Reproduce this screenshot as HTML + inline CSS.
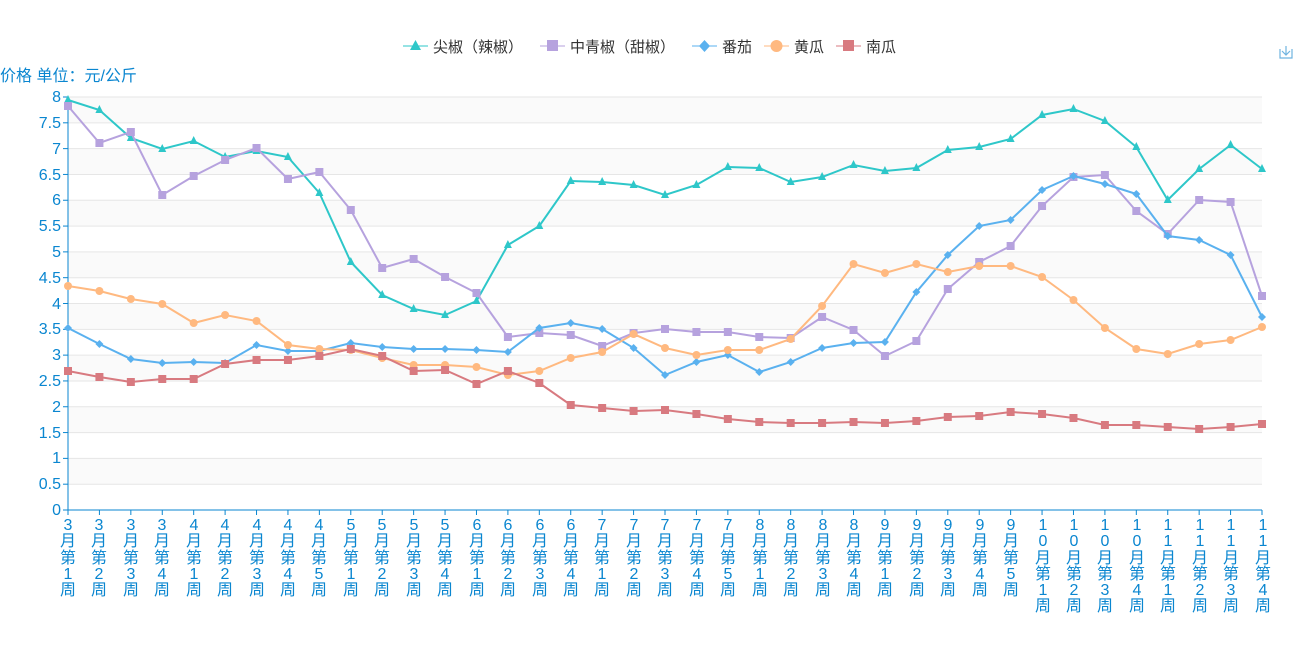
<!DOCTYPE html>
<html><head><meta charset="utf-8"><style>
body{margin:0;width:1300px;height:650px;background:#fff;overflow:hidden;position:relative;font-family:"Liberation Sans","Noto Sans CJK SC",sans-serif}
.xl{position:absolute;top:518px;width:16px;font-size:16px;line-height:16.3px;color:#0a86d0;text-align:center;word-break:break-all}
svg{position:absolute;left:0;top:0}
</style></head><body>
<svg id="s" width="1300" height="650" xmlns="http://www.w3.org/2000/svg" font-family="Liberation Sans, Noto Sans CJK SC, sans-serif">
<g id="bands"></g>
<text x="0" y="81" font-size="16" fill="#0a86d0">价格 单位：元/公斤</text>
<g font-size="16" fill="#0a86d0" text-anchor="end">
<text x="61" y="102">8</text><text x="61" y="128">7.5</text><text x="61" y="154">7</text><text x="61" y="180">6.5</text><text x="61" y="205">6</text><text x="61" y="231">5.5</text><text x="61" y="257">5</text><text x="61" y="283">4.5</text><text x="61" y="309">4</text><text x="61" y="334">3.5</text><text x="61" y="360">3</text><text x="61" y="386">2.5</text><text x="61" y="412">2</text><text x="61" y="438">1.5</text><text x="61" y="463">1</text><text x="61" y="489">0.5</text><text x="61" y="515">0</text>
</g>
<g id="axis"></g>
<g id="series"></g>
<g font-size="15" fill="#333">
<line x1="403" y1="46" x2="428" y2="46" stroke="#2ec7c9" stroke-width="1"/><polygon points="415.5,40 421,50 410,50" fill="#2ec7c9"/>
<text x="433" y="52">尖椒（辣椒）</text>
<line x1="540" y1="46" x2="565" y2="46" stroke="#b6a2de"/><rect x="547" y="40" width="11" height="11" fill="#b6a2de"/>
<text x="570" y="52">中青椒（甜椒）</text>
<line x1="692" y1="46" x2="717" y2="46" stroke="#5ab1ef"/><polygon points="704.5,40 710,46 704.5,52 699,46" fill="#5ab1ef"/>
<text x="722" y="52">番茄</text>
<line x1="764" y1="46" x2="789" y2="46" stroke="#ffb980"/><circle cx="776.5" cy="46" r="6" fill="#ffb980"/>
<text x="794" y="52">黄瓜</text>
<line x1="836" y1="46" x2="861" y2="46" stroke="#d87a80"/><rect x="843" y="40" width="11" height="11" fill="#d87a80"/>
<text x="866" y="52">南瓜</text>
</g>
<g stroke="#6fb3e0" fill="none" stroke-width="1.2"><path d="M1280 49v9h12v-9M1286 46v9M1282 51l4 4 4-4"/></g>
</svg>
<div class="xl" style="left:60px">3月第1周</div><div class="xl" style="left:91px">3月第2周</div><div class="xl" style="left:123px">3月第3周</div><div class="xl" style="left:154px">3月第4周</div><div class="xl" style="left:186px">4月第1周</div><div class="xl" style="left:217px">4月第2周</div><div class="xl" style="left:249px">4月第3周</div><div class="xl" style="left:280px">4月第4周</div><div class="xl" style="left:311px">4月第5周</div><div class="xl" style="left:343px">5月第1周</div><div class="xl" style="left:374px">5月第2周</div><div class="xl" style="left:406px">5月第3周</div><div class="xl" style="left:437px">5月第4周</div><div class="xl" style="left:469px">6月第1周</div><div class="xl" style="left:500px">6月第2周</div><div class="xl" style="left:532px">6月第3周</div><div class="xl" style="left:563px">6月第4周</div><div class="xl" style="left:594px">7月第1周</div><div class="xl" style="left:626px">7月第2周</div><div class="xl" style="left:657px">7月第3周</div><div class="xl" style="left:689px">7月第4周</div><div class="xl" style="left:720px">7月第5周</div><div class="xl" style="left:752px">8月第1周</div><div class="xl" style="left:783px">8月第2周</div><div class="xl" style="left:815px">8月第3周</div><div class="xl" style="left:846px">8月第4周</div><div class="xl" style="left:877px">9月第1周</div><div class="xl" style="left:909px">9月第2周</div><div class="xl" style="left:940px">9月第3周</div><div class="xl" style="left:972px">9月第4周</div><div class="xl" style="left:1003px">9月第5周</div><div class="xl" style="left:1035px">10月第1周</div><div class="xl" style="left:1066px">10月第2周</div><div class="xl" style="left:1097px">10月第3周</div><div class="xl" style="left:1129px">10月第4周</div><div class="xl" style="left:1160px">11月第1周</div><div class="xl" style="left:1192px">11月第2周</div><div class="xl" style="left:1223px">11月第3周</div><div class="xl" style="left:1255px">11月第4周</div>
<script>
var NS="http://www.w3.org/2000/svg";
function el(p,t,a){var e=document.createElementNS(NS,t);for(var k in a)e.setAttribute(k,a[k]);p.appendChild(e);return e;}
var X0=68,X1=1262,Y0=510,Y8=97,st=(Y0-Y8)/16;
var b=document.getElementById('bands');
for(var i=0;i<16;i++){el(b,'rect',{x:X0,y:Y8+i*st,width:X1-X0,height:st,fill:i%2==0?'#fafafa':'#ffffff'});}
for(var i=0;i<16;i++){el(b,'line',{x1:X0,x2:X1,y1:Y8+i*st,y2:Y8+i*st,stroke:'#e6e6e6'});}
var ax=document.getElementById('axis');
el(ax,'line',{x1:X0,x2:X0,y1:Y8,y2:Y0,stroke:'#0a86d0'});
el(ax,'line',{x1:X0,x2:X1,y1:Y0,y2:Y0,stroke:'#0a86d0'});
for(var i=0;i<=16;i++)el(ax,'line',{x1:X0-5,x2:X0,y1:Y8+i*st,y2:Y8+i*st,stroke:'#0a86d0'});
var dx=(X1-X0)/38;
for(var i=0;i<39;i++)el(ax,'line',{x1:X0+i*dx,x2:X0+i*dx,y1:Y0,y2:Y0+5,stroke:'#0a86d0'});
var S=[
['#2ec7c9','tri',[100,110,138,149,141,157,151,157,193,262,295,309,315,301,245,226,181,182,185,195,185,167,168,182,177,165,171,168,150,147,139,115,109,121,147,200,169,145,169]],
['#b6a2de','sq',[106,143,132,195,176,160,148,179,172,210,268,259,277,293,337,333,335,346,333,329,332,332,337,338,317,330,356,341,289,262,246,206,177,175,211,234,200,202,296]],
['#5ab1ef','dia',[328,344,359,363,362,363,345,351,351,343,347,349,349,350,352,328,323,329,348,375,362,355,372,362,348,343,342,292,255,226,220,190,176,184,194,236,240,255,317]],
['#ffb980','cir',[286,291,299,304,323,315,321,345,349,350,358,365,365,367,375,371,358,352,334,348,355,350,350,339,306,264,273,264,272,266,266,277,300,328,349,354,344,340,327]],
['#d87a80','sq',[371,377,382,379,379,364,360,360,356,349,356,371,370,384,371,383,405,408,411,410,414,419,422,423,423,422,423,421,417,416,412,414,418,425,425,427,429,427,424]]];
var g=document.getElementById('series');
S.forEach(function(s){var pts=s[2].map(function(y,i){return (X0+i*dx).toFixed(1)+','+y;}).join(' ');
el(g,'polyline',{points:pts,fill:'none',stroke:s[0],'stroke-width':2});
s[2].forEach(function(y,i){var x=X0+i*dx,r=4;
if(s[1]=='tri')el(g,'polygon',{points:x+','+(y-r-1)+' '+(x+r)+','+(y+r-1)+' '+(x-r)+','+(y+r-1),fill:s[0]});
else if(s[1]=='sq')el(g,'rect',{x:x-r,y:y-r,width:2*r,height:2*r,fill:s[0]});
else if(s[1]=='dia')el(g,'polygon',{points:x+','+(y-r)+' '+(x+r)+','+y+' '+x+','+(y+r)+' '+(x-r)+','+y,fill:s[0]});
else el(g,'circle',{cx:x,cy:y,r:r,fill:s[0]});});});
</script>
</body></html>
